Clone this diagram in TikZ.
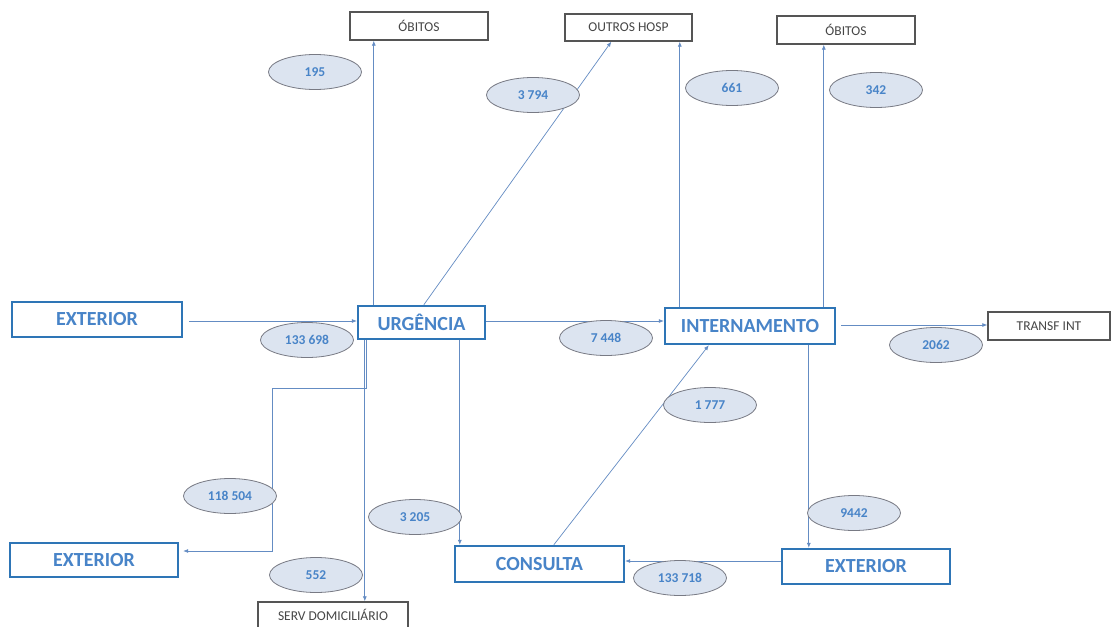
\documentclass[tikz,border=0pt]{standalone}
\usepackage{fontspec}
\setmainfont{Carlito}
\usetikzlibrary{arrows.meta,shapes.geometric,calc}
\definecolor{boxblue}{RGB}{46,117,182}
\definecolor{txtblue}{RGB}{72,132,200}
\definecolor{linec}{RGB}{100,140,195}
\definecolor{ellfill}{RGB}{220,228,240}
\definecolor{ellbord}{RGB}{120,122,132}
\definecolor{gbord}{RGB}{85,85,85}
\definecolor{gtext}{RGB}{70,70,70}
\tikzset{
  bigbox/.style={draw=boxblue,line width=2.4pt,fill=white,text=txtblue,font=\fontsize{20}{21}\selectfont\bfseries,inner sep=0pt},
  smallbox/.style={draw=gbord,line width=1.4pt,fill=white,text=gtext,font=\fontsize{13.5}{14}\selectfont,inner sep=0pt},
  flow/.style={ellipse,draw=ellbord,line width=0.8pt,fill=ellfill,text=txtblue,font=\fontsize{13.5}{14}\selectfont\bfseries,inner sep=0pt,minimum width=93pt,minimum height=35pt},
  arr/.style={draw=linec,line width=0.7pt,-{Latex[length=5pt,width=4pt]}}
}
\begin{document}
\begin{tikzpicture}[x=1pt,y=-1pt]
\path[use as bounding box,fill=white] (0,0) rectangle (1112,627);
% main boxes
\node[bigbox,minimum width=170pt,minimum height=35pt] (ext1) at (97,319.5) {EXTERIOR};
\node[bigbox,minimum width=127pt,minimum height=33pt] (urg) at (421.5,322.5) {URGÊNCIA};
\node[bigbox,minimum width=170pt,minimum height=36pt] (int) at (750,326) {INTERNAMENTO};
\node[bigbox,minimum width=168pt,minimum height=34pt] (ext2) at (94,560) {EXTERIOR};
\node[bigbox,minimum width=169pt,minimum height=36pt] (cons) at (539.5,564) {CONSULTA};
\node[bigbox,minimum width=168pt,minimum height=35pt] (ext3) at (866,566.5) {EXTERIOR};
% small boxes
\node[smallbox,minimum width=138pt,minimum height=28pt] (obl) at (419,26) {ÓBITOS};
\node[smallbox,minimum width=127pt,minimum height=27pt] (outros) at (628.5,27.5) {OUTROS HOSP};
\node[smallbox,minimum width=138pt,minimum height=28pt] (obr) at (846,30) {ÓBITOS};
\node[smallbox,minimum width=122pt,minimum height=28pt] (transf) at (1049,326) {TRANSF INT};
\node[smallbox,minimum width=150pt,minimum height=26pt] (serv) at (333,615) {SERV DOMICILIÁRIO};
% connectors
\draw[arr,shorten <=6pt] ([yshift=-1.5pt]ext1.east) -- ([yshift=-1.5pt]ext1.east -| urg.west);
\draw[arr] ([xshift=17pt]urg.north west) -- ([xshift=17pt]urg.north west |- obl.south);
\draw[arr] ([xshift=67pt]urg.north west) -- ([xshift=47pt]outros.south west);
\draw[arr] ([yshift=1.5pt]urg.east) -- ([yshift=1.5pt]urg.east -| int.west);
\draw[arr] ([xshift=16pt]int.north west) -- ([xshift=16pt]int.north west |- outros.south);
\draw[arr] ([xshift=160pt]int.north west) -- ([xshift=160pt]int.north west |- obr.south);
\draw[arr,shorten <=5pt] ([yshift=1pt]int.east) -- ([yshift=1pt]int.east -| transf.west);
\coordinate (b1) at (272,388);
\draw[arr,shorten >=4pt] ([xshift=10pt]urg.south west) |- (b1) |- ([yshift=9pt]ext2.east);
\draw[arr] ([xshift=8pt]urg.south west) -- ([xshift=8pt]urg.south west |- serv.north);
\draw[arr] ([xshift=103pt]urg.south west) -- ([xshift=103pt]urg.south west |- cons.north);
\draw[arr] ([xshift=100pt]cons.north west) -- ([xshift=45pt]int.south west);
\draw[arr] ([yshift=5.5pt]ext3.west) -- ([yshift=5.5pt]ext3.west -| cons.east);
\draw[arr] ([xshift=145pt]int.south west) -- ([xshift=145pt]int.south west |- ext3.north);
% flow labels
\node[flow] (f195) at (315,72) {195};
\node[flow] (f3794) at (533,95) {3 794};
\node[flow] (f661) at (732,88) {661};
\node[flow] (f342) at (876,90) {342};
\node[flow] (f133698) at (307,340) {133 698};
\node[flow] (f7448) at (606,338) {7 448};
\node[flow] (f2062) at (936,345) {2062};
\node[flow] (f1777) at (710,405) {1 777};
\node[flow] (f118504) at (230,496) {118 504};
\node[flow] (f3205) at (415,517) {3 205};
\node[flow] (f9442) at (854,513) {9442};
\node[flow] (f552) at (316,575) {552};
\node[flow] (f133718) at (680,578) {133 718};
\end{tikzpicture}
\end{document}
